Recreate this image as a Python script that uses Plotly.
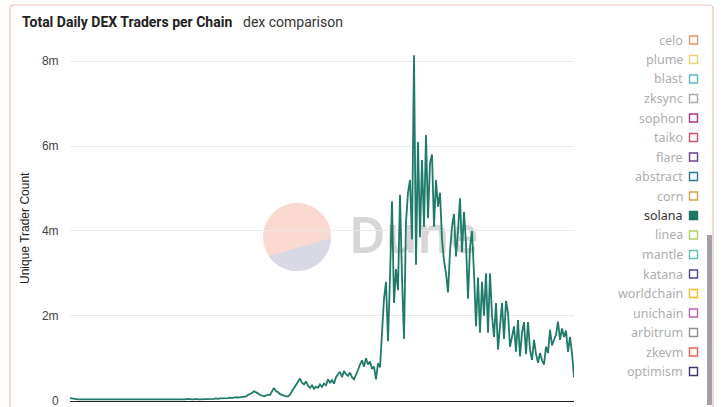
import math
import pandas as pd
import plotly.graph_objects as go

# ---------------- data ----------------
start_date = "2021-01-01"
step_days = 7
solana_traders_m = [
    0.06, 0.05, 0.04, 0.04, 0.03, 0.03, 0.03, 0.02, 0.03, 0.02, 0.02,
    0.02, 0.02, 0.03, 0.02, 0.02, 0.03, 0.02, 0.02, 0.02, 0.03, 0.02, 0.02, 0.02, 0.02, 0.03, 0.02, 0.02, 0.02, 0.02, 0.02,
    0.02, 0.02, 0.02, 0.03, 0.02, 0.02, 0.02, 0.02, 0.02, 0.03, 0.03, 0.02, 0.02, 0.02, 0.03, 0.02, 0.02, 0.02, 0.03, 0.03,
    0.03, 0.03, 0.03, 0.02, 0.03, 0.03, 0.03, 0.03, 0.04, 0.03, 0.03, 0.03, 0.04, 0.03, 0.03, 0.04, 0.04, 0.04, 0.03, 0.04,
    0.04, 0.04, 0.05, 0.04, 0.05, 0.05, 0.06, 0.05, 0.06, 0.07,
    0.06, 0.07, 0.08, 0.07, 0.08, 0.09, 0.10, 0.10, 0.13, 0.15,
    0.18, 0.22, 0.20, 0.17, 0.13, 0.12, 0.10, 0.12, 0.14, 0.13,
    0.22, 0.30, 0.22, 0.20, 0.15, 0.13, 0.12, 0.10, 0.10, 0.14,
    0.22, 0.30, 0.38, 0.45, 0.52, 0.42, 0.38, 0.45, 0.35, 0.30,
    0.36, 0.28, 0.33, 0.30, 0.38, 0.32, 0.40, 0.36, 0.50, 0.42,
    0.48, 0.40, 0.55, 0.62, 0.68, 0.55, 0.70, 0.62, 0.58, 0.66,
    0.55, 0.50, 0.60, 0.72, 0.85, 0.95, 0.80, 1.00, 0.85, 0.92,
    0.75, 0.80, 0.50, 0.88, 0.78, 1.60, 2.40, 2.80, 1.40, 2.90,
    4.70, 2.30, 3.10, 2.60, 4.85, 2.90, 1.45, 4.20, 4.90, 5.20,
    3.80, 8.14, 3.20, 6.10, 3.85, 5.67, 4.10, 6.26, 4.30, 5.60,
    5.80, 4.10, 5.20, 4.57, 4.90, 3.80, 3.30, 3.00, 2.55, 3.50,
    4.10, 4.40, 3.40, 4.00, 4.77, 3.50, 4.45, 3.70, 2.40, 3.60,
    4.00, 3.00, 1.75, 2.90, 1.60, 2.80, 2.00, 3.00, 1.60, 3.00,
    2.00, 1.50, 2.30, 1.20, 1.80, 2.30, 1.45, 2.35, 2.07, 1.27,
    1.50, 1.75, 1.15, 1.90, 1.04, 1.60, 1.85, 1.10, 1.85, 1.20,
    0.96, 1.43, 1.10, 0.89, 1.12, 0.95, 0.85, 1.27, 1.12, 1.67,
    1.30, 1.43, 1.55, 1.86, 1.43, 1.70, 1.50, 1.65, 1.15, 1.50, 1.12,
    0.55,
]
y_tick_vals = [0, 2e6, 4e6, 6e6, 8e6]
y_tick_text = ["0", "2m", "4m", "6m", "8m"]
legend_names = ["celo", "plume", "blast", "zksync", "sophon", "taiko", "flare", "abstract", "corn",
                "solana", "linea", "mantle", "katana", "worldchain", "unichain", "arbitrum", "zkevm", "optimism"]
legend_colors = ["#e8956a", "#f0d070", "#5bb8c8", "#a8a8a8", "#b0308a", "#d2506a", "#6a3f8a", "#2a7a9a", "#d9a040",
                 "#1f7563", "#b0d060", "#60c0b8", "#4a4a8a", "#e8c020", "#c060b0", "#909090", "#e06050", "#3a3a70"]
active_series = "solana"
title_main = "Total Daily DEX Traders per Chain"
title_sub = "dex comparison"
y_title = "Unique Trader Count"

# ---------------- figure ----------------
dates = pd.date_range(start_date, periods=len(solana_traders_m), freq=f"{step_days}D")
values = [v * 1e6 for v in solana_traders_m]

W, H = 723, 407
L, R, T, B = 70, 574, 40, 401
pw, ph = R - L, B - T

def X(px):
    return (px - L) / pw

def Y(py):
    return (B - py) / ph

fig = go.Figure()
fig.add_trace(go.Scatter(x=dates, y=values, mode="lines", name="solana",
                         line=dict(color="#1f7a6a", width=1.8), showlegend=False))

shapes = []
annotations = []

# card border
shapes.append(dict(type="path", xref="paper", yref="paper",
                   path=f"M {X(10)},{Y(420)} L {X(10)},{Y(9)} Q {X(10)},{Y(5)} {X(14)},{Y(5)} "
                        f"L {X(709)},{Y(5)} Q {X(713)},{Y(5)} {X(713)},{Y(9)} L {X(713)},{Y(420)}",
                   line=dict(color="#e6c3b2", width=1.2), layer="above"))

# watermark circle
cx, cy, r = 297, 237, 34
circle_pts = [(cx + r * math.cos(math.radians(a)), cy - r * math.sin(math.radians(a))) for a in range(0, 361, 4)]
path = "M " + " L ".join(f"{X(px)},{Y(py)}" for px, py in circle_pts) + " Z"
shapes.append(dict(type="path", xref="paper", yref="paper", path=path,
                   fillcolor="#fad9d1", line=dict(width=0), layer="below"))
seg_pts = [(cx + r * math.cos(math.radians(a)), cy - r * math.sin(math.radians(a))) for a in range(-2, -147, -4)]
path2 = "M " + " L ".join(f"{X(px)},{Y(py)}" for px, py in seg_pts) + " Z"
shapes.append(dict(type="path", xref="paper", yref="paper", path=path2,
                   fillcolor="#d9d9e6", line=dict(width=0), layer="below"))
# watermark text
shapes.append(dict(type="rect", xref="paper", yref="paper", x0=X(346), x1=X(470), y0=Y(262), y1=Y(212),
                   line=dict(width=0), fillcolor="rgba(0,0,0,0)", layer="below",
                   label=dict(text="Dune", font=dict(family="Noto Sans", size=50, color="#d6d6d6", weight=600),
                              textposition="middle left", padding=0)))

# scrollbar
shapes.append(dict(type="rect", xref="paper", yref="paper", x0=X(707), x1=X(712), y0=Y(405), y1=Y(235),
                   fillcolor="#9ea2a7", line=dict(width=0), layer="above"))

# legend
for i, (name, col) in enumerate(zip(legend_names, legend_colors)):
    py = 40 + i * 19.5
    active = name == active_series
    annotations.append(dict(xref="paper", yref="paper", x=X(685), y=Y(py), xanchor="right", yanchor="middle",
                            text=name, showarrow=False,
                            font=dict(family="Noto Sans", size=12.5, color="#333333" if active else "#adadad")))
    shapes.append(dict(type="rect", xref="paper", yref="paper", x0=X(689.5), x1=X(697.5), y0=Y(py + 4), y1=Y(py - 4),
                       line=dict(color=col, width=1.4), fillcolor=col if active else "rgba(0,0,0,0)", layer="above"))

# title
annotations.append(dict(xref="paper", yref="paper", x=X(20), y=Y(22), xanchor="left", yanchor="middle",
                        text=f"<b>{title_main}</b>", showarrow=False,
                        font=dict(family="Roboto", size=14, color="#222222")))
annotations.append(dict(xref="paper", yref="paper", x=X(241), y=Y(22), xanchor="left", yanchor="middle",
                        text=title_sub, showarrow=False,
                        font=dict(family="Roboto", size=14, color="#333333")))
# y title
annotations.append(dict(xref="paper", yref="paper", x=X(25), y=Y(228), xanchor="center", yanchor="middle",
                        text=y_title, textangle=-90, showarrow=False,
                        font=dict(family="Liberation Sans", size=12, color="#222222")))

fig.update_layout(
    width=W, height=H,
    margin=dict(l=L, r=W - R, t=T, b=H - B, pad=0, autoexpand=False),
    paper_bgcolor="white", plot_bgcolor="white",
    showlegend=False,
    shapes=shapes, annotations=annotations,
    xaxis=dict(range=[dates[0], dates[-1]], showticklabels=False, showgrid=False, zeroline=False,
               showline=True, linecolor="#222222", linewidth=1, ticks="", automargin=False),
    yaxis=dict(range=[-0.01e6, 8.5e6], tickvals=y_tick_vals, ticktext=y_tick_text, showgrid=True,
               gridcolor="#e9e9e9", gridwidth=1, zeroline=False, showline=False, automargin=False,
               ticks="outside", ticklen=8, tickcolor="rgba(0,0,0,0)", ticklabeloverflow="allow",
               tickfont=dict(family="Liberation Sans", size=12, color="#444444")),
)

fig.write_html("out.html")
